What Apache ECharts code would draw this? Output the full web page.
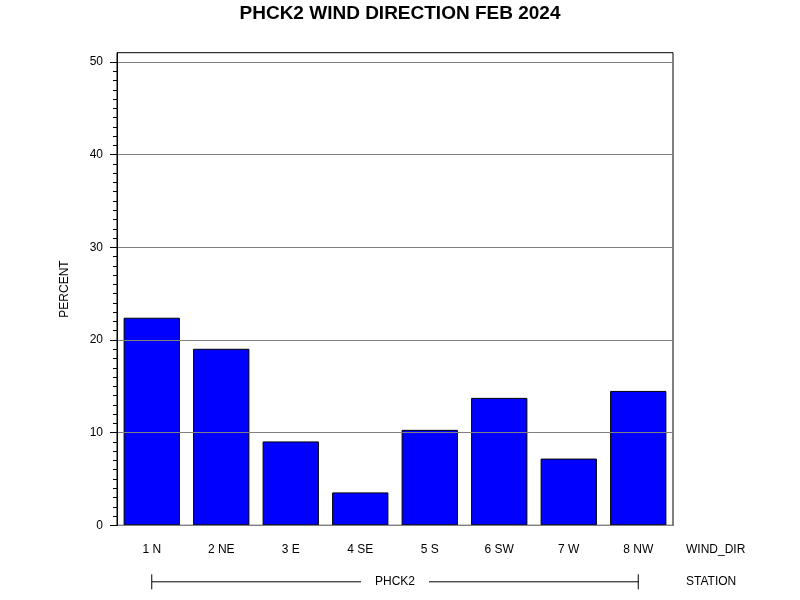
<!DOCTYPE html>
<html><head><meta charset="utf-8">
<script src="https://cdn.jsdelivr.net/npm/echarts@6/dist/echarts.min.js"></script>
<style>html,body{margin:0;padding:0;background:#fff}#c{width:800px;height:600px}</style>
</head><body><div id="c"></div>
<script>
const categories = ['1 N','2 NE','3 E','4 SE','5 S','6 SW','7 W','8 NW'];
const percentValues = [22.4, 19.05, 9.05, 3.55, 10.3, 13.75, 7.2, 14.5];
const stationCategories = ['PHCK2'];
const yMajorTicks = [0, 10, 20, 30, 40, 50];
const yMinorTicks = [];
for (let v = 1; v < 50; v++) if (v % 10 !== 0) yMinorTicks.push(v);

const FONT = 'Liberation Sans, Arial, sans-serif';
const chart = echarts.init(document.getElementById('c'), null, {renderer: 'canvas'});
const option = {
  backgroundColor: '#fff',
  animation: false,
  title: {
    text: 'PHCK2 WIND DIRECTION FEB 2024', left: 'center', top: -1,
    textStyle: {fontFamily: FONT, fontSize: 19, fontWeight: 'bold', color: '#000'}
  },
  grid: {left: 117, right: 127, top: 52.7, bottom: 74.7, show: true, borderColor: '#000', borderWidth: 1, containLabel: false},
  xAxis: [{
    type: 'category', data: categories, position: 'bottom',
    axisLine: {lineStyle: {color: '#000'}}, axisTick: {show: false},
    axisLabel: {fontFamily: FONT, fontSize: 12, color: '#000', margin: 18},
    name: 'WIND_DIR', nameLocation: 'end', nameGap: 13,
    nameTextStyle: {fontFamily: FONT, fontSize: 12, color: '#000', verticalAlign: 'top', padding: [18, 0, 0, 0]}
  }, {
    type: 'category', data: stationCategories, position: 'bottom', offset: 50,
    axisLine: {show: false}, axisTick: {show: false},
    axisLabel: {fontFamily: FONT, fontSize: 12, color: '#000', margin: 0, backgroundColor: '#fff', padding: [0, 14, 0, 14]},
    name: 'STATION', nameLocation: 'end', nameGap: 13,
    nameTextStyle: {fontFamily: FONT, fontSize: 12, color: '#000', verticalAlign: 'top', padding: [50, 0, 0, 0]}
  }],
  yAxis: [{
    type: 'value', min: 0, max: 51, position: 'left', z: 5,
    name: 'PERCENT', nameLocation: 'middle', nameGap: 46,
    nameTextStyle: {fontFamily: FONT, fontSize: 12, color: '#000'},
    axisLine: {show: true, lineStyle: {color: '#000'}},
    axisTick: {show: true, length: 7, customValues: yMajorTicks, lineStyle: {color: '#000'}},
    axisLabel: {fontFamily: FONT, fontSize: 12, color: '#000', margin: 14, customValues: yMajorTicks},
    splitLine: {show: true, lineStyle: {color: '#808080', width: 1}}
  }, {
    type: 'value', min: 0, max: 51, position: 'left', offset: 0,
    axisLine: {show: false},
    axisTick: {show: true, length: 4, customValues: yMinorTicks, lineStyle: {color: '#000'}},
    axisLabel: {show: false},
    splitLine: {show: false}
  }],
  series: [{
    type: 'bar', data: percentValues, xAxisIndex: 0, yAxisIndex: 0, z: 1,
    barCategoryGap: '19%',
    itemStyle: {color: '#0000FF', borderColor: '#000', borderWidth: 1}
  }]
};
chart.setOption(option);

// bracket under the categories, spanning from first to last category centre
const x0 = chart.convertToPixel({xAxisIndex: 0}, categories[0]);
const x1 = chart.convertToPixel({xAxisIndex: 0}, categories[categories.length - 1]);
const yB = chart.convertToPixel({yAxisIndex: 0}, 0) + 56.5;
chart.setOption({
  graphic: [{
    type: 'group', z: 0, children: [
      {type: 'line', shape: {x1: x0, y1: yB, x2: x1, y2: yB}, style: {stroke: '#000', lineWidth: 1}},
      {type: 'line', shape: {x1: x0, y1: yB - 7.5, x2: x0, y2: yB + 7.5}, style: {stroke: '#000', lineWidth: 1}},
      {type: 'line', shape: {x1: x1, y1: yB - 7.5, x2: x1, y2: yB + 7.5}, style: {stroke: '#000', lineWidth: 1}}
    ]
  }]
});
</script></body></html>
